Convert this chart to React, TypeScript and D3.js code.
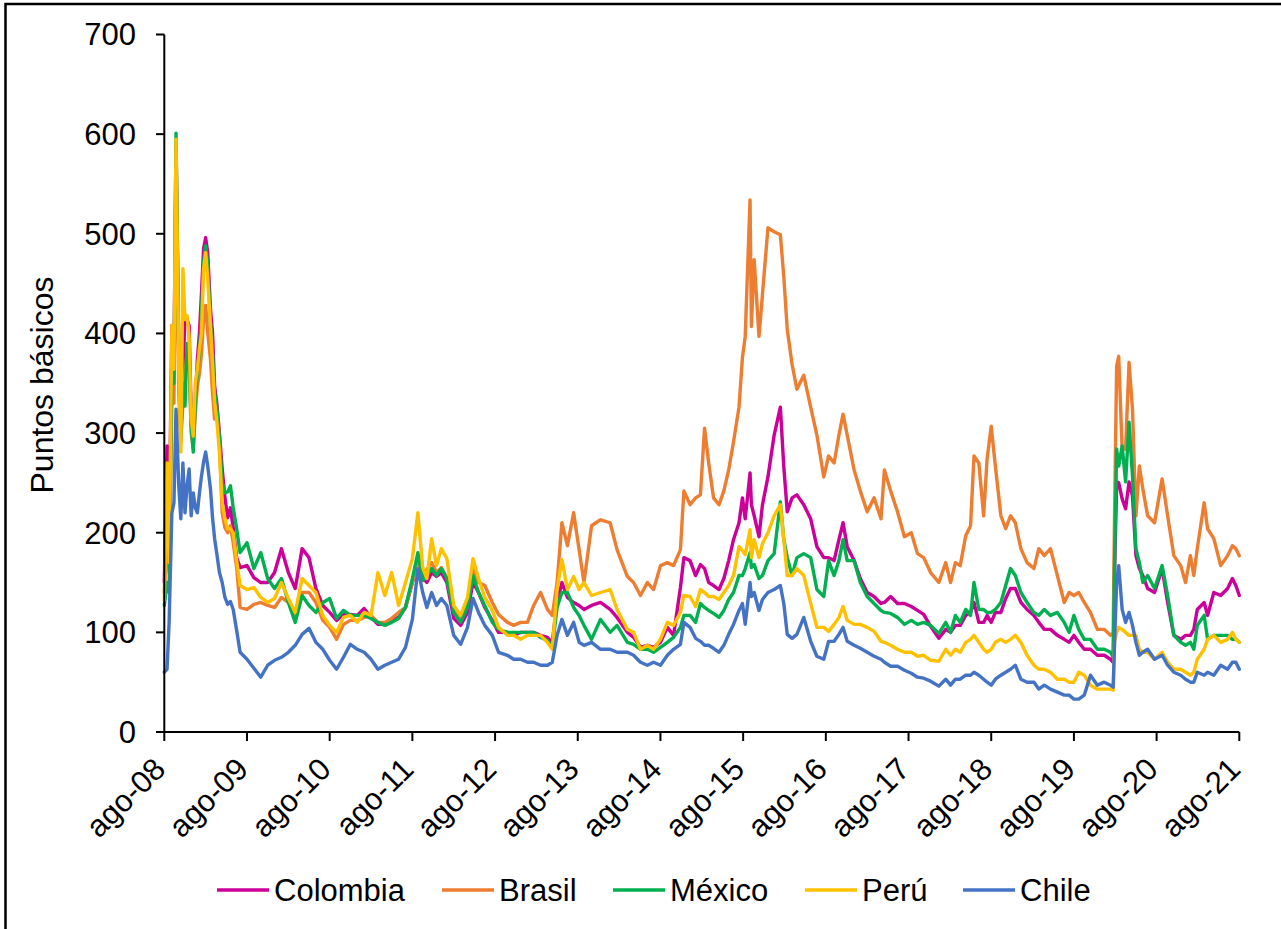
import React from "react";
import * as d3 from "d3";

// Months elapsed since Aug-2008 for each observation
const monthPos = [
  0, 0.4, 0.7, 1.1, 1.4, 1.7, 2.1, 2.4, 2.7, 3.0, 3.3, 3.6, 3.9, 4.2, 4.5, 4.8, 5.1, 5.4, 5.7, 6.0,
  6.3, 6.7, 7.0, 7.3, 7.6, 8.0, 8.4, 8.8, 9.2, 9.6, 10.0, 10.5, 11, 12, 13, 14, 15, 16, 17, 18,
  19, 20, 21, 22, 23, 24, 25, 26, 27, 28, 29, 30, 31, 32, 33, 34, 35, 36, 36.8, 37.5,
  38.1, 38.8, 39.5, 40.2, 41, 42, 43, 44, 44.8, 45.6, 46.5, 47.6, 48.5, 49.8, 50.7, 51.7, 52.7, 53.6, 54.6, 55.6,
  56.3, 57, 57.7, 58.5, 59.4, 60.2, 60.9, 62, 63.3, 64.7, 65.7, 67.2, 68.1, 69.1, 70.1, 71, 72, 73, 73.9, 74.9,
  75.4, 76.3, 77.1, 77.8, 78.4, 79, 79.7, 80.5, 81.2, 81.9, 82.6, 83.4, 83.9, 84.3, 85, 85.2, 85.6, 86.3, 86.8, 87.6,
  88.5, 89.4, 89.9, 90.4, 91.1, 91.8, 92.8, 93.8, 94.7, 95.7, 96.4, 97.2, 97.9, 98.5, 99.1, 100.1, 101, 102, 103, 104,
  104.5, 105.4, 106.4, 107.4, 108.4, 109.3, 110.2, 111.2, 112.4, 113.4, 114.1, 114.8, 115.5, 116.3, 117, 117.5, 118.2, 118.9, 119.4, 120,
  120.6, 121.4, 122.1, 122.8, 123.5, 124.3, 125.2, 126.2, 126.9, 127.7, 128.6, 129.6, 130.6, 131.3, 132, 132.7, 133.5, 134.4, 135.4, 136.4,
  137.3, 137.7, 137.9, 138.2, 138.5, 139, 139.5, 140, 140.5, 141, 141.5, 142, 142.7, 143.7, 144.8, 145.6, 146.5, 147.5, 148.2, 148.9,
  149.4, 149.9, 150.9, 151.4, 152.3, 153.3, 154.3, 155, 155.5, 156,
];

const colombia = [
  150, 287, 200, 408, 370, 590, 380, 300, 360, 414, 414, 408, 320, 300, 330, 374, 400, 441, 485, 496,
  481, 424, 400, 347, 331, 300, 264, 235, 215, 225, 205, 175, 165, 167, 155, 150, 150, 160, 184, 160,
  144, 184, 175, 144, 127, 120, 112, 118, 118, 117, 124, 115, 108, 108, 112, 115, 125, 150, 177, 155,
  150, 160, 156, 160, 150, 114, 107, 120, 150, 140, 125, 112, 100, 100, 97, 100, 100, 100, 97, 95,
  90, 130, 150, 135, 130, 127, 123, 127, 130, 123, 115, 100, 95, 85, 87, 85, 90, 105, 97, 145,
  175, 172, 157, 168, 164, 150, 147, 143, 154, 172, 193, 210, 235, 214, 260, 228, 217, 196, 228, 256,
  298, 326, 266, 221, 235, 238, 228, 214, 186, 175, 175, 172, 193, 210, 186, 172, 154, 140, 136, 129,
  130, 136, 129, 129, 126, 122, 118, 106, 94, 103, 100, 107, 107, 117, 120, 130, 110, 110, 117, 110,
  120, 120, 134, 144, 144, 130, 123, 117, 110, 103, 103, 97, 93, 90, 97, 90, 83, 83, 77, 77,
  73, 70, 160, 251, 250, 234, 224, 251, 237, 177, 164, 157, 144, 140, 164, 130, 97, 93, 97, 97,
  103, 123, 130, 117, 140, 137, 144, 154, 147, 137,
];

const brasil = [
  140, 200, 160, 330, 330, 560, 340, 290, 330, 360, 380, 370, 300, 285, 320, 347, 360, 380, 414, 428,
  401, 374, 340, 314, 320, 290, 220, 205, 200, 207, 190, 165, 125, 123, 128, 130, 127, 125, 135, 130,
  118, 140, 140, 130, 112, 105, 93, 108, 112, 112, 115, 117, 110, 110, 114, 120, 125, 150, 175, 160,
  163, 170, 160, 165, 155, 125, 115, 130, 165, 150, 147, 130, 118, 110, 107, 110, 110, 127, 140, 123,
  117, 150, 210, 187, 220, 183, 150, 207, 213, 210, 183, 156, 150, 137, 150, 143, 167, 170, 167, 183,
  242, 228, 235, 238, 305, 270, 235, 228, 242, 263, 291, 326, 376, 397, 534, 407, 474, 397, 439, 506,
  502, 499, 457, 404, 369, 344, 358, 326, 298, 256, 277, 270, 298, 319, 298, 263, 242, 221, 235, 214,
  263, 242, 221, 196, 200, 179, 175, 160, 150, 170, 150, 170, 167, 197, 207, 277, 270, 217, 274, 307,
  267, 217, 204, 217, 210, 184, 170, 164, 184, 177, 184, 157, 130, 140, 137, 140, 130, 120, 103, 103,
  97, 100, 220, 367, 377, 284, 284, 371, 324, 217, 267, 244, 217, 210, 254, 217, 177, 167, 150, 177,
  157, 184, 230, 204, 194, 167, 177, 187, 184, 177,
];

const mexico = [
  127, 150, 140, 380, 350, 601, 381, 297, 350, 327, 390, 380, 307, 281, 330, 364, 380, 420, 471, 488,
  470, 410, 380, 340, 327, 295, 250, 240, 241, 247, 225, 204, 180, 190, 164, 180, 154, 144, 154, 130,
  110, 137, 127, 120, 130, 134, 114, 122, 117, 117, 117, 114, 110, 107, 110, 114, 125, 154, 180, 152,
  157, 164, 157, 164, 154, 120, 110, 125, 157, 140, 127, 110, 103, 100, 100, 100, 100, 100, 95, 92,
  85, 125, 140, 140, 125, 117, 107, 93, 113, 100, 107, 90, 88, 83, 83, 80, 85, 90, 95, 105,
  117, 117, 110, 129, 125, 122, 119, 115, 122, 133, 140, 157, 157, 164, 180, 165, 168, 154, 157, 172,
  179, 231, 193, 175, 157, 175, 179, 175, 143, 136, 172, 157, 172, 193, 172, 172, 150, 136, 129, 122,
  120, 119, 115, 108, 112, 108, 110, 107, 99, 110, 100, 117, 110, 123, 117, 150, 123, 123, 120, 120,
  123, 130, 147, 164, 157, 140, 130, 120, 117, 123, 117, 120, 110, 100, 117, 103, 93, 93, 83, 83,
  80, 75, 170, 284, 267, 287, 251, 311, 257, 184, 170, 150, 157, 144, 167, 137, 97, 90, 87, 90,
  83, 107, 117, 93, 97, 97, 97, 93, 93, 90,
];

const peru = [
  132, 270, 170, 408, 364, 595, 364, 281, 465, 414, 418, 397, 314, 297, 350, 364, 385, 400, 465, 481,
  455, 408, 370, 331, 314, 281, 230, 214, 204, 204, 200, 172, 147, 143, 145, 135, 130, 134, 150, 134,
  120, 154, 147, 140, 117, 107, 100, 115, 117, 110, 120, 117, 160, 137, 160, 127, 150, 174, 220, 165,
  154, 194, 167, 184, 174, 127, 117, 135, 174, 154, 135, 122, 105, 97, 97, 93, 97, 97, 97, 90,
  83, 143, 173, 143, 156, 143, 150, 137, 140, 143, 123, 103, 100, 83, 87, 83, 93, 110, 107, 120,
  137, 136, 126, 143, 140, 136, 136, 133, 140, 147, 157, 186, 182, 178, 203, 175, 193, 175, 189, 200,
  217, 228, 193, 157, 157, 164, 157, 129, 105, 105, 101, 108, 115, 126, 112, 108, 108, 105, 101, 91,
  90, 87, 83, 80, 80, 76, 77, 72, 71, 83, 77, 83, 80, 90, 93, 97, 90, 83, 80, 83,
  90, 93, 90, 93, 97, 90, 77, 67, 63, 63, 60, 53, 53, 50, 50, 60, 57, 47, 43, 43,
  43, 42, 90, 100, 105, 103, 100, 97, 97, 97, 83, 80, 80, 73, 80, 70, 63, 63, 60, 57,
  60, 73, 83, 93, 97, 90, 93, 100, 93, 90,
];

const chile = [
  60, 63, 110, 220, 230, 324, 247, 214, 270, 220, 247, 264, 217, 240, 225, 220, 240, 257, 271, 281,
  267, 244, 215, 194, 180, 160, 150, 135, 128, 131, 123, 102, 80, 73, 64, 55, 67, 72, 75, 80,
  87, 98, 104, 90, 83, 72, 63, 75, 88, 83, 80, 73, 63, 67, 70, 73, 85, 113, 164, 140,
  125, 140, 127, 134, 127, 97, 88, 105, 134, 120, 107, 97, 80, 77, 73, 73, 70, 70, 67, 67,
  70, 97, 113, 97, 110, 90, 87, 90, 83, 83, 80, 80, 77, 70, 67, 70, 67, 77, 83, 88,
  110, 105, 94, 91, 87, 87, 84, 80, 87, 98, 108, 122, 129, 108, 150, 136, 140, 122, 133, 140,
  143, 147, 129, 98, 94, 98, 115, 91, 76, 73, 91, 91, 98, 105, 91, 87, 84, 80, 76, 73,
  70, 66, 66, 62, 59, 55, 54, 51, 46, 53, 47, 53, 53, 57, 57, 60, 57, 53, 50, 47,
  53, 57, 60, 63, 67, 53, 50, 50, 43, 47, 43, 40, 37, 37, 33, 33, 37, 57, 47, 50,
  47, 45, 90, 150, 167, 123, 110, 120, 107, 90, 77, 80, 83, 73, 77, 67, 60, 57, 53, 50,
  50, 60, 57, 60, 57, 67, 63, 70, 70, 63,
];

const seriesNames = ["Colombia", "Brasil", "México", "Perú", "Chile"];
const seriesColors = ["#CC0099", "#ED7D31", "#00B050", "#FFC000", "#4472C4"];
const seriesValues = [colombia, brasil, mexico, peru, chile];

const xTickMonths = [0, 12, 24, 36, 48, 60, 72, 84, 96, 108, 120, 132, 144, 156];
const xTickLabels = [
  "ago-08", "ago-09", "ago-10", "ago-11", "ago-12", "ago-13", "ago-14",
  "ago-15", "ago-16", "ago-17", "ago-18", "ago-19", "ago-20", "ago-21",
];
const yTicks = [0, 100, 200, 300, 400, 500, 600, 700];
const yTitle = "Puntos básicos";

const legendX = [217, 442, 613, 805, 963];

export default function App() {
  const W = 1281;
  const H = 929;
  const x = d3.scaleLinear().domain([0, 156]).range([164.3, 1239.3]);
  const y = d3.scaleLinear().domain([0, 700]).range([732, 34.5]);
  const font = "'Liberation Sans', Arial, Helvetica, sans-serif";

  const line = d3
    .line<[number, number]>()
    .x((d) => x(d[0]))
    .y((d) => y(d[1]));

  return (
    <svg
      width={W}
      height={H}
      style={{ position: "absolute", left: 0, top: 0, background: "#fff" }}
      fontFamily={font}
    >
      <rect x={0} y={0} width={W} height={H} fill="#fff" />
      <rect x={5.5} y={4} width={1400} height={1100} fill="none" stroke="#000" strokeWidth={2.5} />

      {/* series */}
      <g>
        {seriesValues.map((vals, i) => {
          const pts = monthPos.map((m, k) => [m, vals[k]] as [number, number]);
          return (
            <path
              key={seriesNames[i]}
              d={line(pts) || ""}
              fill="none"
              stroke={seriesColors[i]}
              strokeWidth={3.4}
              strokeLinejoin="round"
              strokeLinecap="round"
            />
          );
        })}
      </g>

      {/* y axis */}
      <line x1={x(0)} x2={x(0)} y1={y(700)} y2={y(0)} stroke="#000" strokeWidth={2} />
      {yTicks.map((t) => (
        <g key={t}>
          <line x1={156} x2={x(0)} y1={y(t)} y2={y(t)} stroke="#000" strokeWidth={2} />
          <text x={136} y={y(t)} dy="0.35em" textAnchor="end" fontSize={31} fill="#000">
            {t}
          </text>
        </g>
      ))}
      <text
        transform={`translate(53, 385) rotate(-90)`}
        textAnchor="middle"
        fontSize={32}
        fill="#000"
      >
        {yTitle}
      </text>

      {/* x axis */}
      <line x1={x(0)} x2={x(156)} y1={y(0)} y2={y(0)} stroke="#000" strokeWidth={2} />
      {xTickMonths.map((m, i) => (
        <g key={m}>
          <line x1={x(m)} x2={x(m)} y1={y(0)} y2={y(0) + 9} stroke="#000" strokeWidth={2} />
          <text
            transform={`translate(${x(m) + 3}, 771) rotate(-45)`}
            textAnchor="end"
            fontSize={31}
            fill="#000"
          >
            {xTickLabels[i]}
          </text>
        </g>
      ))}

      {/* legend */}
      {seriesNames.map((name, i) => (
        <g key={name}>
          <line
            x1={legendX[i]}
            x2={legendX[i] + 52}
            y1={890}
            y2={890}
            stroke={seriesColors[i]}
            strokeWidth={3.5}
          />
          <text x={legendX[i] + 57} y={901} fontSize={31} fill="#000">
            {name}
          </text>
        </g>
      ))}
    </svg>
  );
}
